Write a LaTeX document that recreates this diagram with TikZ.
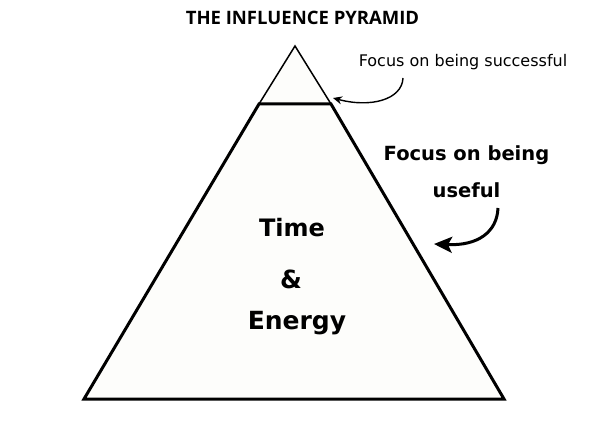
\documentclass[tikz,border=0pt]{standalone}
\usepackage{fontspec}
\setmainfont{DejaVu Sans}
\newfontfamily\titlefont{Open Sans}
\usetikzlibrary{arrows.meta}
\begin{document}
\begin{tikzpicture}[x=1pt,y=-1pt,
  edge/.style={line width=3pt,line join=miter},
  thinedge/.style={line width=1.5pt},
  smallarrow/.style={line width=1.4pt,-{Stealth[length=9pt,width=8pt]}},
  bigarrow/.style={line width=3pt,-{Stealth[length=18pt,width=16pt,inset=4pt]}},
  lab/.style={inner sep=0pt,anchor=center}]
\useasboundingbox (0,0) rectangle (600,430);
\coordinate (apex) at (295,46);
\coordinate (tl) at (259,104);
\coordinate (tr) at (331,104);
\coordinate (bl) at (84,399);
\coordinate (br) at (504,399);
\fill[fill={rgb,255:red,253;green,253;blue,251}] (apex) -- (br) -- (bl) -- cycle;
\draw[thinedge] (tl) -- (apex) -- (tr);
\draw[edge] (tl) -- (tr) -- (br) -- (bl) -- cycle;
\node[lab] (title) at (302.5,18) {\titlefont\bfseries\fontsize{18.5}{21}\selectfont THE INFLUENCE PYRAMID};
\node[lab] (time) at (292,228) {\bfseries\fontsize{24}{30}\selectfont Time};
\node[lab] (amp) at (291,279) {\bfseries\fontsize{25}{30}\selectfont \&};
\node[lab] (energy) at (297,323) {\bfseries\fontsize{25}{30}\selectfont Energy};
\node[lab] (succ) at (463,62) {\fontsize{16}{19}\selectfont Focus on being successful};
\node[lab] (useful1) at (466.5,155) {\bfseries\fontsize{19.5}{24}\selectfont Focus on being};
\node[lab] (useful2) at (466.5,190) {\bfseries\fontsize{19.5}{24}\selectfont useful};
\coordinate (s1) at (403,78);
\coordinate (e1) at (333,98);
\coordinate (s2) at (498,208);
\coordinate (e2) at (434,244);
\draw[smallarrow] (s1) .. controls (402,100) and (370,108) .. (e1);
\draw[bigarrow] (s2) .. controls (497,232) and (478,246) .. (e2);
\end{tikzpicture}
\end{document}
